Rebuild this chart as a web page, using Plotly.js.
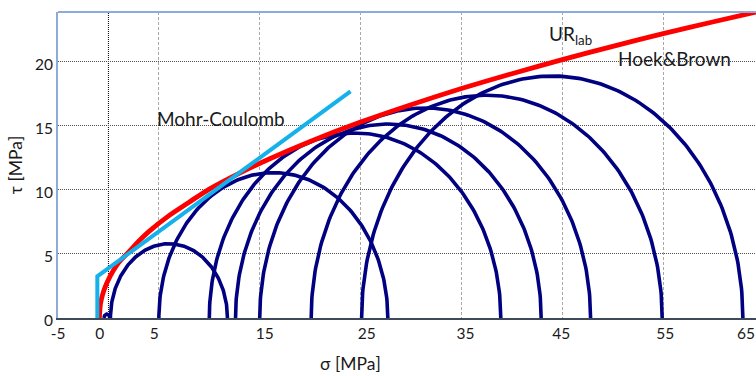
<!DOCTYPE html>
<html>
<head>
<meta charset="utf-8">
<script src="https://cdn.plot.ly/plotly-3.0.1.min.js"></script>
<style>
  html, body { margin: 0; padding: 0; background: #fff; }
  #chart { width: 756px; height: 376px; }
</style>
</head>
<body>
<div id="chart"></div>
<script>
// Mohr circles from triaxial tests: minor and major principal stress [MPa]
const sigma3 = [-0.45, 0.2, 5.0, 10.0, 12.6, 15.0, 20.1, 25.1];
const sigma1 = [0.15, 11.8, 27.7, 38.9, 42.9, 47.8, 54.9, 62.9];

// Hoek & Brown failure envelope (UR lab), normal vs shear stress [MPa]
const hbSigma = [-0.9, -0.8, -0.6, -0.3, 0, 0.5, 1, 2, 3, 4, 6, 8, 10, 13, 16, 20, 25, 30, 35, 40, 45, 50, 55, 60, 65];
const hbTau   = [0, 1.04, 1.77, 2.47, 3.0, 3.73, 4.32, 5.15, 6.0, 6.75, 8.0, 9.05, 10.07, 11.32, 12.44, 13.79, 15.3, 16.66, 17.92, 19.08, 20.18, 21.22, 22.21, 23.14, 24.04];

// Mohr-Coulomb envelope with tension cut-off
const mcSigma = [-1.1, -1.1, 24.0];
const mcTau   = [0, 3.25, 17.7];

// Axis ticks
const xGridVals = [5, 15, 25, 35, 45, 55];
const xLabelVals = [-5, -0.87, 4.55, 15.5, 25.6, 35.4, 44.9, 55.2, 63.2];
const xLabelText = ['-5', '0', '5', '15', '25', '35', '45', '55', '65'];
const yTickVals = [0, 5, 10, 15, 20];

const NAVY = '#000080';
const RED = '#ff0000';
const SKY = '#14b1ea';
const FONT = 'Lato, "Open Sans", sans-serif';
const INK = '#1a1a1a';

// Upper half of each Mohr circle, built from its two principal stresses
function halfCircle(s3, s1) {
  const c = (s1 + s3) / 2, r = (s1 - s3) / 2;
  const xs = [], ys = [];
  const n = 180;
  for (let i = 0; i <= n; i++) {
    const t = Math.PI * i / n;
    xs.push(c + r * Math.cos(t));
    ys.push(r * Math.sin(t));
  }
  return { xs, ys };
}

const traces = [];
sigma3.forEach((s3, i) => {
  const h = halfCircle(s3, sigma1[i]);
  traces.push({
    x: h.xs, y: h.ys, type: 'scatter', mode: 'lines',
    line: { color: NAVY, width: 3.6 },
    hoverinfo: 'skip', showlegend: false
  });
});
traces.push({
  x: hbSigma, y: hbTau, type: 'scatter', mode: 'lines',
  line: { color: RED, width: 4.8, shape: 'spline', smoothing: 0.6 },
  name: 'Hoek&Brown', showlegend: false
});
traces.push({
  x: mcSigma, y: mcTau, type: 'scatter', mode: 'lines',
  line: { color: SKY, width: 4 },
  name: 'Mohr-Coulomb', showlegend: false
});
// invisible trace that carries the label axis
traces.push({ x: [-5], y: [0], xaxis: 'x2', yaxis: 'y', mode: 'markers',
  marker: { opacity: 0 }, hoverinfo: 'skip', showlegend: false });

const xRange = [-5, 64.2];

const layout = {
  width: 756, height: 376,
  margin: { l: 58, r: 0, t: 12, b: 58 },
  paper_bgcolor: '#fff', plot_bgcolor: '#fff',
  font: { family: FONT, size: 15, color: INK },
  showlegend: false,
  xaxis: {
    range: xRange, tickvals: xGridVals, showticklabels: false, ticks: '',
    showgrid: true, gridcolor: '#a8a8a8', gridwidth: 1, griddash: '3px,2px',
    zeroline: false, showline: true, linecolor: '#3e4a5a', linewidth: 2
  },
  xaxis2: {
    overlaying: 'x', anchor: 'y', side: 'bottom', range: xRange,
    tickvals: xLabelVals, ticktext: xLabelText, ticks: '',
    showgrid: false, zeroline: false, showline: false,
    ticklabeloverflow: 'allow', ticklabelstandoff: 4,
    tickfont: { family: FONT, size: 15.5, color: INK }
  },
  yaxis: {
    range: [0, 23.9], tickvals: yTickVals, ticks: '',
    showgrid: true, gridcolor: '#505050', gridwidth: 1, griddash: '1px,1px',
    zeroline: false, showline: true, linecolor: '#8eaad8', linewidth: 2,
    ticklabelshift: 3,
    tickfont: { family: FONT, size: 15.5, color: INK },
    title: { text: 'τ [MPa]', font: { family: FONT, size: 17.5, color: INK }, standoff: 8 }
  },
  shapes: [
    // zero stress reference line
    { type: 'line', xref: 'x', yref: 'paper', x0: 0, x1: 0, y0: 0, y1: 1,
      line: { color: '#000', width: 1, dash: '1px,1px' }, layer: 'below' },
    // top frame
    { type: 'line', xref: 'paper', yref: 'paper', x0: 0, x1: 1, y0: 1, y1: 1,
      line: { color: '#8eaad8', width: 2 } }
  ],
  annotations: [
    { text: 'σ [MPa]', xref: 'paper', yref: 'paper', x: (350 - 58) / 698, y: -0.148,
      xanchor: 'center', yanchor: 'middle', showarrow: false,
      font: { family: FONT, size: 17.5, color: INK } },
    { text: 'Mohr-Coulomb', xref: 'x', yref: 'y', x: 4.6, y: 15.6,
      xanchor: 'left', yanchor: 'middle', showarrow: false,
      font: { family: FONT, size: 19, color: INK } },
    { text: 'UR<sub>lab</sub>', xref: 'x', yref: 'y', x: 43.5, y: 22.1,
      xanchor: 'left', yanchor: 'middle', showarrow: false,
      font: { family: FONT, size: 19, color: INK } },
    { text: 'Hoek&Brown', xref: 'x', yref: 'y', x: 50.3, y: 20.3,
      xanchor: 'left', yanchor: 'middle', showarrow: false,
      font: { family: FONT, size: 19, color: INK } }
  ]
};

Plotly.newPlot('chart', traces, layout, { staticPlot: true, displayModeBar: false });
</script>
</body>
</html>
